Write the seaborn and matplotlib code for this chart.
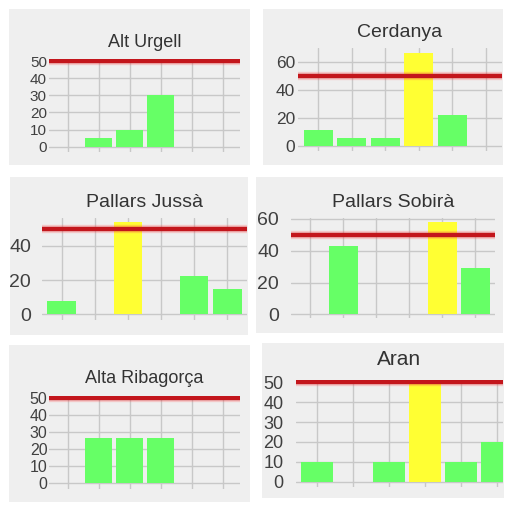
import matplotlib
matplotlib.use("Agg")
import matplotlib.pyplot as plt
import seaborn as sns
import pandas as pd
from matplotlib.patches import Rectangle

sns.set_theme(style="whitegrid")
plt.rcParams['font.family'] = ['Liberation Sans', 'DejaVu Sans']

# ---------------- data ----------------
slots = ["1", "2", "3", "4", "5", "6"]
threshold = 50

titles = ["Alt Urgell", "Cerdanya", "Pallars Jussà",
          "Pallars Sobirà", "Alta Ribagorça", "Aran"]

alt_urgell = [0, 5, 10, 30, 0, 0]
cerdanya = [11, 5.5, 5.5, 66, 22, 0]
pallars_jussa = [8, 0, 54, 0, 22.5, 15]
pallars_sobira = [0, 43, 0, 0, 58, 29]
alta_ribagorca = [0, 26.5, 26.5, 26.5, 0, 0]
aran = [10, 0, 10, 50, 10, 20]

yticks_10 = [0, 10, 20, 30, 40, 50]
yticks_cerdanya = [0, 20, 40, 60]
yticks_jussa = [0, 20, 40]
yticks_sobira = [0, 20, 40, 60]

series = [alt_urgell, cerdanya, pallars_jussa, pallars_sobira, alta_ribagorca, aran]
yticks = [yticks_10, yticks_cerdanya, yticks_jussa, yticks_sobira, yticks_10, yticks_10]

# ---------------- layout / style (pixels in a 512x512 canvas) ----------------
W = 512.0
GREEN = "#66ff66"
YELLOW = "#ffff33"
PANEL = "#efefef"

boxes = [(9, 9, 250, 165), (263, 9, 503, 165),
         (10, 177, 248, 335), (256, 177, 503, 333),
         (9, 345, 250, 502), (262, 343, 504, 498)]
# x0, x1, ytop, ybottom
rects = [(49, 240, 59.3, 151.8), (298, 502, 47.7, 151.3),
         (42, 247, 218.2, 319.5), (291, 495, 218.1, 318.3),
         (49, 240, 395.9, 488.5), (296, 503, 380.4, 486.7)]
ylims = [(-3, 51), (-4, 70), (-3, 56), (-2.5, 60.5), (-3, 51), (-2.5, 51)]
xlims = [(-0.61, 5.55), (-0.6, 5.48), (-0.6, 5.6), (-0.58, 5.6), (-0.61, 5.55), (-0.58, 5.17)]
tick_fs = [11, 12.5, 14, 14, 11.5, 13]
tick_pad = [1.5, 2, 8, 8.5, 1, 9]
title_fs = [13, 14, 14, 14, 13, 15]
title_base = [46.7, 36.7, 206.7, 206.7, 383.3, 365]

fig = plt.figure(figsize=(5.12, 5.12), dpi=100)
fig.patch.set_facecolor("white")

for i in range(6):
    bx0, by0, bx1, by1 = boxes[i]
    fig.add_artist(Rectangle((bx0 / W, 1 - by1 / W), (bx1 - bx0) / W, (by1 - by0) / W,
                             transform=fig.transFigure, facecolor=PANEL,
                             edgecolor="none", zorder=-1))
    x0, x1, yt, yb = rects[i]
    ax = fig.add_axes([x0 / W, 1 - yb / W, (x1 - x0) / W, (yb - yt) / W])
    ax.set_facecolor(PANEL)

    vals = series[i]
    df = pd.DataFrame({"slot": slots, "value": vals})
    pal = {s: (YELLOW if v >= threshold else GREEN) for s, v in zip(slots, vals)}
    sns.barplot(data=df, x="slot", y="value", hue="slot", palette=pal,
                legend=False, width=0.87, linewidth=0, saturation=1, ax=ax)

    ax.axhline(threshold, color="#ff5050", lw=6, alpha=0.25, zorder=4)
    ax.axhline(threshold, color="#c3161c", lw=3.2, zorder=5)

    ax.set_xlim(*xlims[i])
    ax.set_ylim(*ylims[i])
    ax.set_yticks(yticks[i])
    ax.set_xticks(range(len(slots)))
    ax.set_xticklabels([])
    ax.set_xlabel("")
    ax.set_ylabel("")
    ax.grid(True, color="#c8c8c8", lw=1)
    ax.set_axisbelow(True)
    for sp in ax.spines.values():
        sp.set_visible(False)
    ax.tick_params(axis="both", length=0)
    ax.tick_params(axis="y", labelsize=tick_fs[i], pad=tick_pad[i], labelcolor="#404040")

    pad_pt = (yt - title_base[i]) * 0.72
    ax.set_title(titles[i], fontsize=title_fs[i], color="#333333", pad=pad_pt)

fig.savefig("out.png", dpi=100, facecolor="white")
